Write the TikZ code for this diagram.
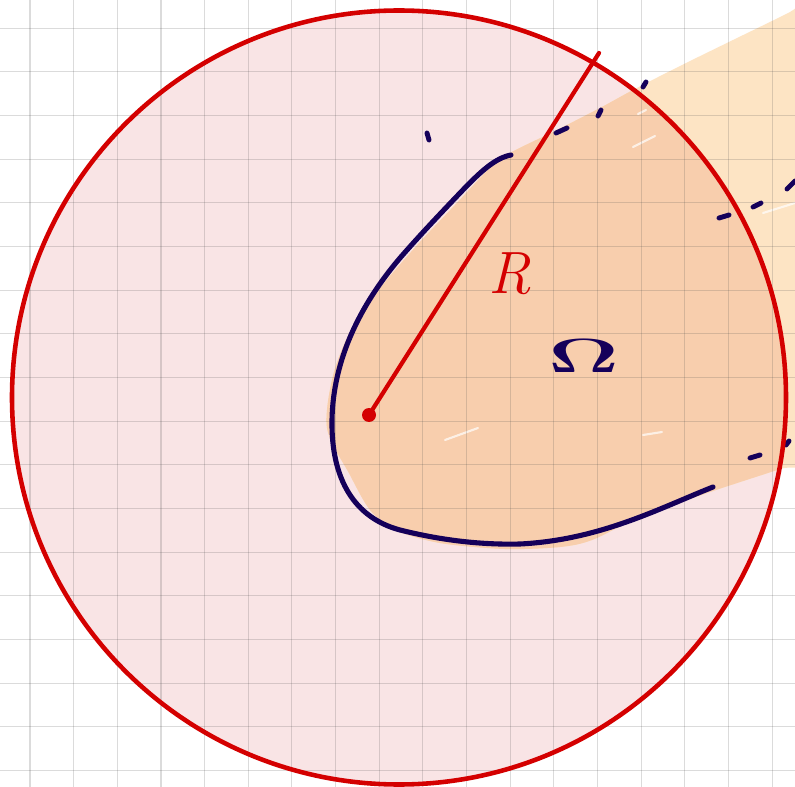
\documentclass[tikz,border=0pt]{standalone}
\usepackage{graphicx}
\definecolor{circred}{HTML}{D40000}
\definecolor{pinkfill}{HTML}{F9E4E5}
\definecolor{peach}{HTML}{FDE4C4}
\definecolor{peachdark}{HTML}{F8CEAD}
\definecolor{navy}{HTML}{15005A}
\tikzset{
  gridline/.style={black!70, opacity=0.2, line width=0.6pt},
  boundary/.style={navy, line width=2.9pt, line cap=round, line join=round},
  dashmark/.style={navy, line width=2.8pt, line cap=round},
  redline/.style={circred, line width=2.4pt, line cap=round},
  highlight/.style={white, opacity=0.7, line width=1.2pt, line cap=round},
}
\begin{document}
\begin{tikzpicture}[x=0.02cm, y=-0.02cm]
\useasboundingbox (0,0) rectangle (795,787);
\clip (0,0) rectangle (795,787);
\fill[white] (0,0) rectangle (795,787);
\coordinate (c) at (399,397.5);
\def\domain{plot[smooth cycle, tension=0.5] coordinates {(510,153) (553,132) (600,108) (633,90) (680,66) (733,40) (790,12) (850,-20) (880,200) (850,445) (780,469) (713,491) (640,517) (592,540) (560,547) (505,549) (440,543) (395,530) (370,510) (350,475) (327,428) (334,372) (356,320) (385,282) (420,242) (455,205) (488,170)}}
% pink disc
\fill[pinkfill] (c) circle[radius=387];
% peach domain (outside the disc)
\fill[peach] \domain;
% darker peach where the domain meets the disc
\begin{scope}
  \clip (c) circle[radius=387];
  \fill[peachdark] \domain;
\end{scope}
% light strokes
\draw[highlight] (633,147) -- (655,136);
\draw[highlight] (763,213) -- (795,203);
\draw[highlight] (445,440) -- (478,428);
\draw[highlight] (643,435) -- (662,432);
\draw[highlight] (638,114) -- (646,110);
% grid
\foreach \i in {0,...,17} {
  \draw[gridline] ({30+43.66*\i},0) -- ({30+43.66*\i},787);
  \draw[gridline] (0,{28.3+43.66*\i}) -- (795,{28.3+43.66*\i});
}
% boundary of the domain
\draw[boundary] (511,155) .. controls (495,158) and (480,172) .. (460,193)
  .. controls (440,214) and (420,235) .. (400,258)
  .. controls (360,305) and (333,360) .. (332,420)
  .. controls (331,480) and (355,518) .. (400,530)
  .. controls (440,540) and (480,545) .. (520,544)
  .. controls (600,540) and (660,508) .. (713,487);
% dashed continuation
\draw[dashmark] (427,133) -- (429,140);
\draw[dashmark] (556,133) -- (567,128);
\draw[dashmark] (598,116) -- (601,110);
\draw[dashmark] (643,87) -- (646,82);
\draw[dashmark] (719,218) -- (729,215);
\draw[dashmark] (753,207) -- (761,203);
\draw[dashmark] (787,189) -- (795,181);
\draw[dashmark] (750,458) -- (760,455);
\draw[dashmark] (786,445) -- (789,441);
% circle
\draw[circred, line width=2.6pt] (c) circle[radius=387];
% radius
\coordinate (o) at (369,415);
\coordinate (rend) at (599,53);
\draw[redline] (o) -- (rend);
\fill[circred] (o) circle[radius=7];
% labels
\node[circred, inner sep=0pt] (Rlabel) at (510,274) {\fontsize{34}{34}\selectfont\itshape R};
\node[navy, inner sep=0pt] (omega) at (584,356) {\scalebox{2.0}[1.1]{\fontsize{34}{34}\selectfont$\mathbf{\Omega}$}};
\end{tikzpicture}
\end{document}
